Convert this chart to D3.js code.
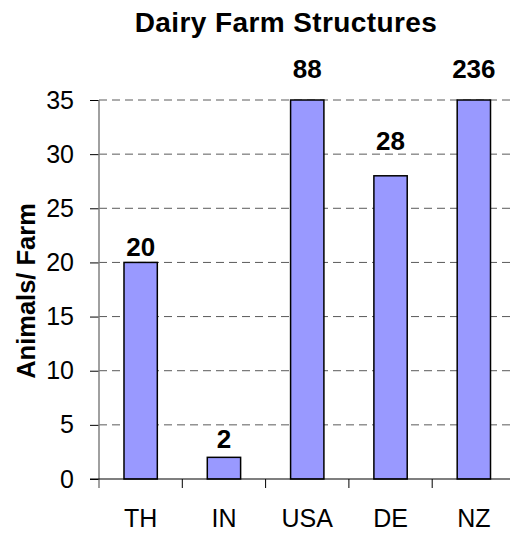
<!DOCTYPE html>
<html>
<head>
<meta charset="utf-8">
<script src="https://cdnjs.cloudflare.com/ajax/libs/d3/7.8.5/d3.min.js"></script>
<style>
  body { margin: 0; background: #fff; }
  svg { display: block; font-family: Arial, "Liberation Sans", sans-serif; }
</style>
</head>
<body>
<div id="chart"></div>
<script>
// chart data
var countries = ["TH", "IN", "USA", "DE", "NZ"];
var animalsPerFarm = [20, 2, 88, 28, 236];
var yTicks = [0, 5, 10, 15, 20, 25, 30, 35];

var width = 510, height = 538;
var plotLeft = 99, plotRight = 515.5, plotTop = 100, plotBottom = 479;

var svg = d3.select("#chart")
    .append("svg")
    .attr("width", width)
    .attr("height", height);

var x = d3.scaleBand()
    .domain(countries)
    .range([plotLeft, plotRight])
    .paddingInner(0.6)
    .paddingOuter(0.3);

var y = d3.scaleLinear()
    .domain([0, 35])
    .range([plotBottom, plotTop])
    .clamp(true);

// dashed grid lines
svg.append("g")
    .selectAll("line")
    .data(yTicks.filter(function(d) { return d > 0; }))
    .enter()
    .append("line")
    .attr("x1", plotLeft)
    .attr("x2", plotRight)
    .attr("y1", function(d) { return y(d); })
    .attr("y2", function(d) { return y(d); })
    .attr("stroke", "#5a5a5a")
    .attr("stroke-width", 1)
    .attr("stroke-dasharray", "8,5");

// y axis
var yAxis = svg.append("g")
    .attr("transform", "translate(" + plotLeft + ",0)")
    .call(d3.axisLeft(y).tickValues(yTicks).tickSize(9).tickPadding(16));
yAxis.select(".domain").remove();
yAxis.selectAll(".tick line").attr("stroke", "#000");
yAxis.selectAll(".tick text")
    .attr("font-size", "25px")
    .attr("fill", "#000");
yAxis.append("line")
    .attr("x1", 0).attr("x2", 0)
    .attr("y1", plotTop).attr("y2", plotBottom + 9)
    .attr("stroke", "#808080")
    .attr("stroke-width", 1.5);

// bars
svg.append("g")
    .selectAll("rect")
    .data(countries)
    .enter()
    .append("rect")
    .attr("x", function(d) { return x(d); })
    .attr("y", function(d, i) { return y(animalsPerFarm[i]); })
    .attr("width", x.bandwidth())
    .attr("height", function(d, i) { return plotBottom - y(animalsPerFarm[i]); })
    .attr("fill", "#9999ff")
    .attr("stroke", "#000")
    .attr("stroke-width", 1.5);

// x axis baseline and category ticks
svg.append("line")
    .attr("x1", plotLeft - 9).attr("x2", width)
    .attr("y1", plotBottom).attr("y2", plotBottom)
    .attr("stroke", "#000")
    .attr("stroke-width", 1.2);

var step = x.step();
svg.append("g")
    .selectAll("line")
    .data(countries.slice(1))
    .enter()
    .append("line")
    .attr("x1", function(d) { return x(d) - step * 0.3; })
    .attr("x2", function(d) { return x(d) - step * 0.3; })
    .attr("y1", plotBottom)
    .attr("y2", plotBottom + 9)
    .attr("stroke", "#000");

svg.append("g")
    .selectAll("text")
    .data(countries)
    .enter()
    .append("text")
    .attr("x", function(d) { return x(d) + x.bandwidth() / 2; })
    .attr("y", 527)
    .attr("text-anchor", "middle")
    .attr("font-size", "25px")
    .text(function(d) { return d; });

// value labels (excel places them a bit unevenly)
var labelLift = {TH: 6, IN: 9, USA: 22, DE: 26, NZ: 22};
svg.append("g")
    .selectAll("text")
    .data(countries)
    .enter()
    .append("text")
    .attr("x", function(d) { return x(d) + x.bandwidth() / 2; })
    .attr("y", function(d, i) { return y(animalsPerFarm[i]) - labelLift[d]; })
    .attr("text-anchor", "middle")
    .attr("font-size", "26px")
    .attr("font-weight", "bold")
    .text(function(d, i) { return animalsPerFarm[i]; });

// title
svg.append("text")
    .attr("x", 286)
    .attr("y", 32)
    .attr("text-anchor", "middle")
    .attr("font-size", "28px")
    .attr("font-weight", "bold")
    .style("letter-spacing", "0.4px")
    .text("Dairy Farm Structures");

// y axis label
svg.append("text")
    .attr("transform", "translate(35,291) rotate(-90)")
    .attr("text-anchor", "middle")
    .attr("font-size", "25.5px")
    .attr("font-weight", "bold")
    .text("Animals/ Farm");
</script>
</body>
</html>
